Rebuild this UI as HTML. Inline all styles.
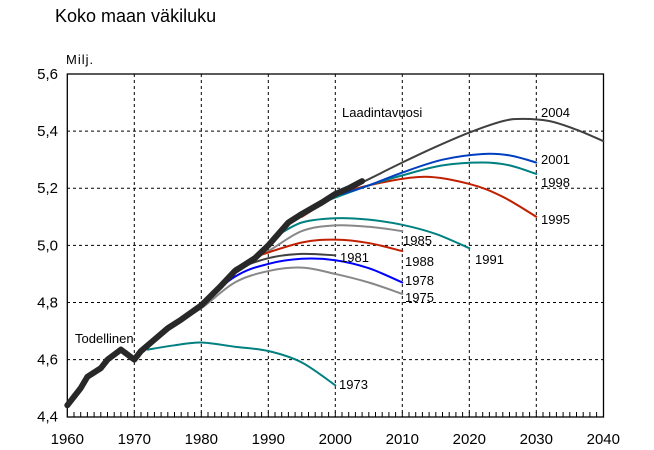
<!DOCTYPE html>
<html><head><meta charset="utf-8"><style>
body{margin:0;background:#fff;}
svg{display:block;font-family:"Liberation Sans",sans-serif;}
</style></head><body>
<svg id="s" width="654" height="450" xmlns="http://www.w3.org/2000/svg">
<rect width="654" height="450" fill="#fff"/>
<text x="55" y="22" font-size="18">Koko maan väkiluku</text>
<text x="66" y="64" font-size="13" letter-spacing="1">Milj.</text>
<g id="grid"></g>
<g id="lines"></g>
<g font-size="13">
<text x="342" y="117">Laadintavuosi</text>
<text x="75" y="343">Todellinen</text>
<text x="541" y="117">2004</text>
<text x="541" y="164">2001</text>
<text x="541" y="187">1998</text>
<text x="541" y="224">1995</text>
<text x="475" y="264">1991</text>
<text x="403" y="245">1985</text>
<text x="405" y="266">1988</text>
<text x="340" y="262">1981</text>
<text x="405" y="285">1978</text>
<text x="405" y="302">1975</text>
<text x="339" y="389">1973</text>
</g>
</svg>
<script>
const X=y=>67.3+(y-1960)*6.7, Y=v=>74+(5.6-v)*285.6;
const ns="http://www.w3.org/2000/svg";
function el(p,t,a){const e=document.createElementNS(ns,t);for(const k in a)e.setAttribute(k,a[k]);p.appendChild(e);return e;}
const g=document.getElementById('grid'), s=document.getElementById('s');
for(let yr=1970;yr<2040;yr+=10)el(g,'line',{x1:X(yr),x2:X(yr),y1:74,y2:417,stroke:'#000','stroke-dasharray':'3,3'});
for(let v=4.6;v<5.59;v+=0.2)el(g,'line',{x1:67,x2:604,y1:Y(v),y2:Y(v),stroke:'#000','stroke-dasharray':'3,3'});
el(g,'rect',{x:67.3,y:74,width:536.2,height:343,fill:'none',stroke:'#000','stroke-width':1.3});
for(let yr=1961;yr<2040;yr++)el(g,'line',{x1:X(yr),x2:X(yr),y1:417,y2:412,stroke:'#000'});
for(let yr=1960;yr<=2040;yr+=10){const t=el(g,'text',{x:X(yr),y:444,'font-size':15,'text-anchor':'middle'});t.textContent=yr;}
[5.6,5.4,5.2,5.0,4.8,4.6,4.4].forEach(v=>{const t=el(g,'text',{x:58,y:Y(v)+5,'font-size':15,'text-anchor':'end'});t.textContent=v.toFixed(1).replace('.',',');});
const L=document.getElementById('lines');
function smooth(pts){let d='M'+pts[0].join(',');for(let i=0;i<pts.length-1;i++){const p0=pts[i-1]||pts[i],p1=pts[i],p2=pts[i+1],p3=pts[i+2]||p2;
d+=' C'+(p1[0]+(p2[0]-p0[0])/6)+','+(p1[1]+(p2[1]-p0[1])/6)+' '+(p2[0]-(p3[0]-p1[0])/6)+','+(p2[1]-(p3[1]-p1[1])/6)+' '+p2[0]+','+p2[1];}return d;}
function line(data,c,w,sm){const pts=data.map(([a,b])=>[X(a),Y(b)]);el(L,'path',{d:sm?smooth(pts):'M'+pts.join(' L'),fill:'none',stroke:c,'stroke-width':w,'stroke-linejoin':'round','stroke-linecap':'round'});}
line([[1972,4.635],[1976,4.65],[1980,4.66],[1985,4.645],[1990,4.63],[1995,4.59],[2000,4.51]],'#008080',2,1);
line([[1975,4.71],[1980,4.78],[1985,4.87],[1990,4.91],[1995,4.922],[2000,4.9],[2005,4.87],[2010,4.83]],'#888',2,1);
line([[1978,4.76],[1985,4.89],[1990,4.935],[1995,4.953],[2000,4.948],[2005,4.92],[2010,4.87]],'#0000ff',2,1);
line([[1981,4.82],[1985,4.91],[1990,4.955],[1995,4.97],[2000,4.965]],'#404040',2,1);
line([[1985,4.92],[1990,4.98],[1995,5.05],[2000,5.07],[2005,5.065],[2010,5.05]],'#888',2,1);
line([[1988,4.96],[1995,5.01],[2000,5.02],[2005,5.008],[2010,4.98]],'#c02000',2,1);
line([[1991,5.03],[1995,5.08],[2000,5.095],[2005,5.09],[2010,5.072],[2015,5.04],[2020,4.99]],'#008080',2,1);
line([[1995,5.1],[2000,5.17],[2005,5.21],[2013,5.24],[2020,5.215],[2025,5.17],[2030,5.1]],'#c02000',2,1);
line([[1998,5.15],[2005,5.21],[2010,5.245],[2016,5.28],[2022,5.29],[2026,5.28],[2030,5.25]],'#008080',2,1);
line([[2001,5.18],[2005,5.21],[2010,5.255],[2016,5.3],[2022,5.32],[2026,5.315],[2030,5.29]],'#0040c0',2,1);
line([[2004,5.22],[2010,5.29],[2015,5.345],[2020,5.395],[2025,5.435],[2028,5.443],[2032,5.435],[2036,5.405],[2040,5.365]],'#404040',2,1);
line([[1960,4.44],[1962,4.5],[1963,4.54],[1965,4.57],[1966,4.6],[1968,4.635],[1970,4.6],[1971,4.63],[1973,4.67],[1975,4.71],[1977,4.74],[1980,4.79],[1983,4.86],[1985,4.91],[1988,4.955],[1990,5.0],[1993,5.08],[1995,5.11],[1998,5.15],[2000,5.18],[2002,5.2],[2004,5.225]],'#282828',6,0);
</script>
</body></html>
